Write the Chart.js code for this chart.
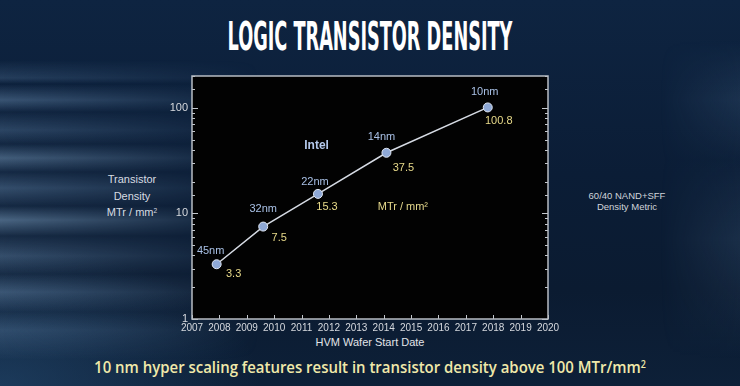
<!DOCTYPE html>
<html>
<head>
<meta charset="utf-8">
<script src="https://cdn.jsdelivr.net/npm/chart.js@4.4.1/dist/chart.umd.min.js"></script>
<style>
  html, body { margin: 0; padding: 0; }
  body {
    width: 740px; height: 386px; overflow: hidden; position: relative;
    font-family: "Liberation Sans", Arial, sans-serif;
    background:
      radial-gradient(ellipse 260px 140px at 0% 100%, rgba(40,80,120,0.55), rgba(40,80,120,0) 100%),
      linear-gradient(180deg, #0e2441 0%, #0b1d36 45%, #0b1b31 75%, #0d2038 100%);
  }
  #streaks {
    position: absolute; left: 0; top: 60px; width: 260px; height: 300px;
    background:
      linear-gradient(180deg,
        rgba(110,150,190,0) 0px, rgba(110,150,190,0.25) 18px, rgba(110,150,190,0) 24px,
        rgba(140,180,220,0.35) 40px, rgba(110,150,190,0.05) 52px, rgba(120,160,200,0.3) 70px,
        rgba(110,150,190,0.08) 84px, rgba(150,190,225,0.4) 98px, rgba(110,150,190,0.1) 112px,
        rgba(130,170,210,0.35) 128px, rgba(110,150,190,0.1) 146px, rgba(150,190,225,0.45) 160px,
        rgba(110,150,190,0.12) 176px, rgba(130,170,210,0.35) 196px, rgba(110,150,190,0.1) 214px,
        rgba(140,180,220,0.35) 232px, rgba(110,150,190,0.08) 252px, rgba(120,160,200,0.28) 270px,
        rgba(110,150,190,0) 300px);
    -webkit-mask-image: linear-gradient(90deg, #000 0%, rgba(0,0,0,0.6) 40%, transparent 100%);
    mask-image: linear-gradient(90deg, #000 0%, rgba(0,0,0,0.6) 40%, transparent 100%);
  }
  #streaksR {
    position: absolute; right: 0; top: 40px; width: 80px; height: 320px;
    background: linear-gradient(180deg, rgba(110,150,190,0) 0px, rgba(110,150,190,0.15) 60px,
      rgba(110,150,190,0.03) 120px, rgba(110,150,190,0.15) 200px, rgba(110,150,190,0) 320px);
    -webkit-mask-image: linear-gradient(270deg, #000 0%, transparent 100%);
    mask-image: linear-gradient(270deg, #000 0%, transparent 100%);
  }
  canvas { position: absolute; left: 0; top: 0; }
  .txt { position: absolute; white-space: nowrap; }
  #title {
    top: 17px; left: 370px; font-family: "DejaVu Sans Condensed", "DejaVu Sans", sans-serif;
    font-weight: bold; font-size: 39px; line-height: 39px; color: #ffffff;
    transform-origin: 0 0;
  }
  #caption {
    top: 356px; left: 370px; font-family: "Open Sans", sans-serif; font-weight: 600;
    font-size: 17px; line-height: 22px; color: #f0e9aa; transform-origin: 0 0;
  }
  #ylab {
    left: 92px; width: 80px; top: 171px; text-align: center; font-size: 11px; line-height: 16.5px;
    color: #d8dce2;
  }
  #side {
    left: 567px; width: 120px; top: 190px; text-align: center; font-size: 9.5px; line-height: 11px;
    color: #d0d4da;
  }
  #xlab {
    left: 270px; width: 200px; top: 336px; text-align: center; font-size: 11px; color: #e2e4e8;
  }
  sup { font-size: 0.6em; vertical-align: 0.5em; line-height: 0; }
</style>
</head>
<body>
<div id="streaks"></div>
<div id="streaksR"></div>
<div id="title" class="txt">LOGIC TRANSISTOR DENSITY</div>
<div id="ylab" class="txt">Transistor<br>Density<br>MTr / mm<sup>2</sup></div>
<div id="side" class="txt">60/40 NAND+SFF<br>Density Metric</div>
<div id="xlab" class="txt">HVM Wafer Start Date</div>
<div id="caption" class="txt">10 nm hyper scaling features result in transistor density above 100 MTr/mm<sup>2</sup></div>
<canvas id="chart" width="740" height="386"></canvas>
<script>
// process nodes, HVM start (fractional year) and density in MTr/mm2
const nodes = ["45nm", "32nm", "22nm", "14nm", "10nm"];
const startYears = [2007.9, 2009.6, 2011.6, 2014.1, 2017.8];
const density = [3.3, 7.5, 15.3, 37.5, 100.8];
const densityLabels = ["3.3", "7.5", "15.3", "37.5", "100.8"];
const yearRange = [2007, 2020];
const densityRange = [1, 200];
const labeledDensityTicks = [1, 10, 100];

// text annotations placed at data coordinates
const notes = [
    { text: "Intel", x: 2011.55, y: 44, color: "#b4c9ec", bold: true },
    { text: "MTr / mm\u00b2", x: 2014.7, y: 11.4, color: "#e6d98c", bold: false }
];

function fitWidth(id, target) {
    const el = document.getElementById(id);
    const w = el.offsetWidth;
    const s = target / w;
    el.style.transform = "scaleX(" + s + ") translateX(-50%)";
}
fitWidth("title", 285);
fitWidth("caption", 552);

const plotFrame = {
    id: "plotFrame",
    beforeDraw(chart) {
        const { ctx, chartArea: a } = chart;
        ctx.save();
        ctx.fillStyle = "#020202";
        ctx.fillRect(a.left, a.top, a.width, a.height);
        ctx.restore();
    },
    beforeDatasetsDraw(chart) {
        const { ctx, chartArea: a, scales } = chart;
        ctx.save();
        ctx.strokeStyle = "#c4c8ce";
        ctx.lineWidth = 1;
        // year ticks on the bottom, pointing in
        scales.x.ticks.forEach(t => {
            const px = Math.round(scales.x.getPixelForValue(t.value)) + 0.5;
            ctx.beginPath();
            ctx.moveTo(px, a.bottom);
            ctx.lineTo(px, a.bottom - 4);
            ctx.stroke();
        });
        // log ticks on both sides
        scales.y.ticks.forEach(t => {
            const py = Math.round(scales.y.getPixelForValue(t.value)) + 0.5;
            const major = labeledDensityTicks.includes(t.value);
            const len = major ? 6 : 3;
            ctx.beginPath();
            ctx.moveTo(a.left, py);
            ctx.lineTo(a.left + len, py);
            ctx.moveTo(a.right, py);
            ctx.lineTo(a.right - len, py);
            ctx.stroke();
        });
        ctx.strokeStyle = "#b8bdc4";
        ctx.lineWidth = 1.5;
        ctx.strokeRect(a.left, a.top, a.width, a.height);
        ctx.restore();
    },
    afterDatasetsDraw(chart) {
        const { ctx, scales } = chart;
        const pts = chart.getDatasetMeta(0).data;
        ctx.save();
        ctx.textAlign = "center";
        ctx.textBaseline = "middle";
        ctx.font = "11px 'Liberation Sans', Arial, sans-serif";
        const nodeOff = [[-6, -13], [0, -18], [-3, -12], [-5, -16], [-3, -15]];
        const valOff = [[17, 10], [16, 11], [9, 13], [17, 15], [11, 14]];
        pts.forEach((p, i) => {
            ctx.fillStyle = "#a9c1e6";
            ctx.fillText(nodes[i], p.x + nodeOff[i][0], p.y + nodeOff[i][1]);
            ctx.fillStyle = "#e8da8a";
            ctx.fillText(densityLabels[i], p.x + valOff[i][0], p.y + valOff[i][1]);
        });
        notes.forEach(n => {
            ctx.font = (n.bold ? "bold 12px" : "11px") + " 'Liberation Sans', Arial, sans-serif";
            ctx.fillStyle = n.color;
            ctx.fillText(n.text, scales.x.getPixelForValue(n.x), scales.y.getPixelForValue(n.y));
        });
        ctx.restore();
    }
};

new Chart(document.getElementById("chart"), {
    type: "line",
    data: {
        datasets: [{
            data: startYears.map((x, i) => ({ x: x, y: density[i] })),
            borderColor: "#d6dbe4",
            borderWidth: 1.5,
            pointRadius: 4.5,
            pointBackgroundColor: "#8ea8d6",
            pointBorderColor: "#dfe6f2",
            pointBorderWidth: 1,
            tension: 0
        }]
    },
    options: {
        responsive: false,
        animation: false,
        devicePixelRatio: 1,
        layout: { padding: { left: 0, top: 76, right: 192, bottom: 0 } },
        plugins: { legend: { display: false }, tooltip: { enabled: false } },
        scales: {
            x: {
                type: "linear",
                min: yearRange[0],
                max: yearRange[1],
                grid: { display: false, drawTicks: false },
                border: { display: false },
                ticks: {
                    stepSize: 1,
                    autoSkip: false,
                    maxRotation: 0,
                    padding: 3,
                    color: "#d6d9de",
                    font: { family: "'Liberation Sans', Arial, sans-serif", size: 10 },
                    callback: v => String(v)
                },
                afterFit(scale) { scale.height = 67; }
            },
            y: {
                type: "logarithmic",
                min: densityRange[0],
                max: densityRange[1],
                grid: { display: false, drawTicks: false },
                border: { display: false },
                ticks: {
                    autoSkip: false,
                    padding: 4,
                    color: "#d6d9de",
                    font: { family: "'Liberation Sans', Arial, sans-serif", size: 11 },
                    callback: v => labeledDensityTicks.includes(v) ? String(v) : ""
                },
                afterFit(scale) { scale.width = 192; }
            }
        }
    },
    plugins: [plotFrame]
});
</script>
</body>
</html>
